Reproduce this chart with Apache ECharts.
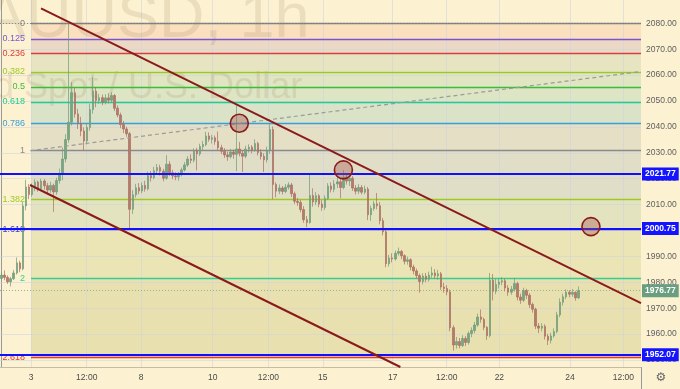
<!DOCTYPE html>
<html><head><meta charset="utf-8">
<script src="https://cdn.jsdelivr.net/npm/echarts@6/dist/echarts.min.js"></script>
<style>html,body{margin:0;padding:0;background:#fcf2d2}#c{width:680px;height:389px}</style>
</head><body><div id="c"></div>
<script>
// 2-hour candles: [open, close, low, high]
const candles = [
[1981.5,1982.8,1980.6,1984.0],[1982.8,1981.9,1980.8,1984.6],[1981.9,1980.2,1979.4,1982.7],[1980.2,1981.4,1978.4,1982.1],
[1981.4,1983.6,1980.9,1984.8],[1983.6,1987.5,1983.0,1989.6],[1987.5,1985.2,1983.9,1988.3],[1985.2,2009.5,1984.6,2011.0],
[2009.5,2016.8,2007.8,2019.6],[2016.8,2013.9,2012.1,2017.9],[2013.9,2016.4,2013.0,2018.2],[2016.4,2018.7,2015.1,2019.8],
[2018.7,2016.2,2015.0,2019.3],[2016.2,2019.1,2015.4,2020.0],[2019.1,2017.3,2015.8,2019.9],[2017.3,2015.6,2014.2,2018.4],
[2015.6,2017.4,2014.6,2018.8],[2017.4,2014.9,2007.2,2018.1],[2014.9,2019.3,2013.8,2020.4],[2019.3,2021.8,2018.1,2023.9],
[2021.8,2027.6,2019.4,2032.0],[2027.6,2035.1,2026.3,2037.2],[2035.1,2041.8,2033.9,2080.1],[2041.8,2053.2,2040.5,2057.3],
[2053.2,2045.0,2043.6,2055.1],[2045.0,2041.3,2039.2,2047.0],[2041.3,2038.4,2036.4,2043.9],[2038.4,2034.6,2031.0,2039.8],
[2034.6,2039.8,2033.2,2041.5],[2039.8,2046.7,2038.5,2048.9],[2046.7,2053.8,2045.1,2059.3],[2053.8,2050.2,2047.6,2055.4],
[2050.2,2051.3,2048.9,2052.8],[2051.3,2049.6,2048.4,2052.5],[2049.6,2051.2,2048.7,2052.6],[2051.2,2050.3,2049.1,2053.0],
[2050.3,2052.1,2049.5,2053.4],[2052.1,2047.2,2046.1,2052.7],[2047.2,2044.6,2043.7,2048.3],[2044.6,2040.9,2039.5,2045.5],
[2040.9,2039.2,2037.6,2042.3],[2039.2,2037.4,2036.2,2040.1],[2037.4,2008.2,2000.2,2038.0],[2008.2,2013.8,2006.4,2015.6],
[2013.8,2016.5,2012.7,2018.0],[2016.5,2015.3,2014.0,2018.3],[2015.3,2017.4,2014.4,2018.6],[2017.4,2016.1,2015.0,2019.2],
[2016.1,2021.2,2015.5,2022.8],[2021.2,2020.4,2018.9,2023.0],[2020.4,2023.1,2019.8,2024.6],[2023.1,2024.3,2021.9,2025.7],
[2024.3,2022.9,2021.2,2025.4],[2022.9,2020.2,2019.0,2023.8],[2020.2,2025.6,2019.6,2029.1],[2025.6,2022.3,2021.0,2026.8],
[2022.3,2021.1,2019.8,2023.4],[2021.1,2020.7,2019.4,2022.5],[2020.7,2021.6,2019.2,2022.6],[2021.6,2023.4,2020.9,2024.3],
[2023.4,2025.3,2022.8,2026.4],[2025.3,2027.6,2024.5,2028.7],[2027.6,2027.1,2025.9,2029.4],[2027.1,2030.8,2026.3,2031.7],
[2030.8,2029.6,2023.2,2031.9],[2029.6,2032.4,2028.8,2033.5],[2032.4,2033.2,2031.0,2034.6],[2033.2,2036.5,2032.6,2038.1],
[2036.5,2035.2,2034.3,2037.9],[2035.2,2035.8,2033.6,2036.9],[2035.8,2034.4,2033.1,2036.7],[2034.4,2032.0,2030.9,2038.2],
[2032.0,2030.6,2029.5,2033.1],[2030.6,2029.2,2028.0,2031.8],[2029.2,2028.5,2026.9,2030.4],[2028.5,2030.3,2027.8,2031.5],
[2030.3,2029.4,2027.7,2031.2],[2029.4,2031.5,2022.9,2048.4],[2031.5,2029.8,2028.6,2034.2],[2029.8,2028.7,2022.6,2031.0],
[2028.7,2031.4,2027.9,2032.7],[2031.4,2032.2,2030.1,2033.3],[2032.2,2031.0,2029.8,2033.0],[2031.0,2033.6,2030.4,2035.2],
[2033.6,2030.1,2029.0,2034.3],[2030.1,2028.6,2027.4,2031.3],[2028.6,2027.3,2022.6,2029.8],[2027.3,2030.9,2026.2,2032.4],
[2030.9,2039.0,2029.6,2041.5],[2039.0,2017.8,2012.1,2040.2],[2017.8,2015.2,2012.8,2018.6],[2015.2,2016.4,2014.1,2017.8],
[2016.4,2015.1,2013.9,2017.2],[2015.1,2016.7,2014.4,2018.0],[2016.7,2017.6,2015.8,2018.6],[2017.6,2014.2,2012.9,2018.4],
[2014.2,2011.3,2010.2,2015.0],[2011.3,2010.8,2009.5,2012.6],[2010.8,2008.1,2007.0,2011.9],[2008.1,2004.2,2003.0,2009.4],
[2004.2,2003.1,2001.3,2005.6],[2003.1,2013.5,2002.6,2022.1],[2013.5,2011.0,2009.2,2016.3],[2011.0,2013.4,2009.8,2014.8],
[2013.4,2010.2,2009.0,2014.1],[2010.2,2008.9,2007.6,2011.7],[2008.9,2012.4,2007.9,2013.6],[2012.4,2017.2,2011.8,2018.3],
[2017.2,2015.9,2014.7,2018.6],[2015.9,2018.0,2014.8,2019.5],[2018.0,2018.8,2016.4,2020.7],[2018.8,2016.6,2012.5,2020.1],
[2016.6,2020.5,2015.9,2023.3],[2020.5,2019.1,2017.7,2022.0],[2019.1,2020.2,2017.2,2021.4],[2020.2,2016.4,2015.3,2021.0],
[2016.4,2015.2,2013.9,2017.6],[2015.2,2016.6,2014.1,2017.9],[2016.6,2014.8,2013.9,2017.5],[2014.8,2016.0,2014.0,2017.3],
[2016.0,2006.1,2004.0,2016.8],[2006.1,2008.5,2003.7,2009.6],[2008.5,2010.3,2007.6,2011.4],[2010.3,2009.6,2008.2,2014.5],
[2009.6,2003.8,2002.4,2011.0],[2003.8,1999.5,1998.1,2004.9],[1999.5,1987.2,1985.8,2000.3],[1987.2,1989.4,1986.1,1990.6],
[1989.4,1989.0,1987.7,1991.2],[1989.0,1991.2,1988.4,1992.3],[1991.2,1991.9,1990.3,1993.4],[1991.9,1990.3,1988.9,1992.5],
[1990.3,1988.1,1986.9,1990.8],[1988.1,1988.7,1986.8,1989.9],[1988.7,1985.9,1984.6,1989.3],[1985.9,1984.4,1983.1,1986.8],
[1984.4,1982.6,1981.5,1985.3],[1982.6,1980.3,1976.0,1983.4],[1980.3,1982.4,1979.2,1983.5],[1982.4,1981.2,1980.0,1983.6],
[1981.2,1982.8,1980.3,1984.1],[1982.8,1983.6,1981.7,1986.0],[1983.6,1982.5,1981.3,1985.1],[1982.5,1983.3,1981.0,1984.8],
[1983.3,1978.2,1977.1,1984.0],[1978.2,1977.6,1976.0,1979.8],[1977.6,1976.3,1975.0,1978.9],[1976.3,1962.5,1961.1,1977.2],
[1962.5,1955.8,1953.6,1963.4],[1955.8,1957.1,1954.4,1958.9],[1957.1,1955.6,1954.5,1958.5],[1955.6,1958.3,1955.0,1959.6],
[1958.3,1956.8,1955.4,1959.2],[1956.8,1960.2,1955.9,1961.1],[1960.2,1961.4,1958.8,1962.6],[1961.4,1963.5,1960.3,1964.7],
[1963.5,1966.6,1962.8,1967.9],[1966.6,1965.7,1964.4,1969.5],[1965.7,1962.6,1961.5,1966.4],[1962.6,1959.4,1957.8,1963.1],
[1959.4,1980.8,1958.7,1983.6],[1980.8,1976.5,1973.0,1983.2],[1976.5,1979.2,1975.4,1981.4],[1979.2,1980.1,1977.6,1981.6],
[1980.1,1980.6,1978.9,1982.0],[1980.6,1977.8,1976.5,1981.5],[1977.8,1976.2,1974.8,1978.9],[1976.2,1977.3,1975.2,1978.6],
[1977.3,1979.5,1976.4,1981.7],[1979.5,1974.3,1973.0,1980.2],[1974.3,1973.1,1971.7,1975.6],[1973.1,1976.8,1972.4,1977.9],
[1976.8,1975.0,1973.6,1977.5],[1975.0,1971.4,1970.1,1975.8],[1971.4,1969.6,1968.3,1972.2],[1969.6,1963.1,1961.9,1970.2],
[1963.1,1962.3,1960.4,1964.3],[1962.3,1963.0,1961.0,1964.2],[1963.0,1959.2,1957.9,1963.8],[1959.2,1957.6,1955.8,1960.1],
[1957.6,1959.3,1956.4,1960.5],[1959.3,1961.0,1958.6,1962.2],[1961.0,1967.4,1960.3,1968.6],[1967.4,1972.3,1966.5,1973.8],
[1972.3,1974.4,1971.0,1975.6],[1974.4,1976.2,1973.5,1977.3],[1976.2,1975.4,1974.2,1977.0],[1975.4,1976.1,1974.4,1977.4],
[1976.1,1974.0,1972.9,1976.6],[1974.0,1976.77,1973.6,1978.4]
];
const tickPos = [9.66, 27.91, 45.70, 69.19, 87.41, 105.24, 128.17, 145.86, 163.10, 186.26, 203.73];
const tickText = ['3','12:00','8','10','12:00','15','17','12:00','22','24','12:00'];
const priceTicks = [1950,1960,1970,1980,1990,2000,2010,2020,2030,2040,2050,2060,2070,2080];
const fibHigh = 2080.1, fibLow = 2030.8;
const fibLevels = [0,0.125,0.236,0.382,0.5,0.618,0.786,1,1.382,1.618,2,2.618];
const fibLabels = ['0','0.125','0.236','0.382','0.5','0.618','0.786','1','1.382','1.618','2','2.618'];
const fibColors = ['#7d7d7d','#7a55d0','#d8403c','#9cc925','#3cbc3c','#22cc94','#3a9ed8','#8a8a8a','#9cc925','#3a3ae8','#30d090','#e03a3a'];
const bandColors = ['#fae0bf','#ebd9c6','#e7e4c2','#e0e5c2','#dde5c4','#dae2c7','#e4dfc5','#e1dec7','#e3e4bf','#ebe4b4','#e8e1af'];
const keyLevels = [2021.77, 2000.75, 1952.07];
const lastPrice = 1976.77;
const trendUpper = [[12.93,2085.79],[209.5,1971.93]];
const trendLower = [[9.33,2017.57],[130.66,1947.3]];
const dashedTrend = [[9.33,2030.8],[209.5,2061.4]];
const circles = [[77.9,2041.4],[112.0,2023.4],[193.1,2001.5]];

const X0 = -0.5, X1 = 209.5, FIBX = 9.66;
const fibPrice = l => fibHigh - l * (fibHigh - fibLow);

const chart = echarts.init(document.getElementById('c'), null, {renderer:'canvas'});
const bands = [];
for (let i = 0; i < fibLevels.length - 1; i++) {
  bands.push([{coord:[FIBX, fibPrice(fibLevels[i])], itemStyle:{color:bandColors[i]}}, {coord:[X1, fibPrice(fibLevels[i+1])]}]);
}
const fibLines = fibLevels.map((l, i) => [
  {coord:[FIBX, fibPrice(l)], lineStyle:{color:fibColors[i], width:1.4, type:'solid', opacity:1},
   label:{show:true, position:'start', distance:6, formatter:fibLabels[i], color:fibColors[i], fontSize:9, fontFamily:'Liberation Sans'}},
  {coord:[X1, fibPrice(l)]}
]);
const gridLines = priceTicks.map(p => ({yAxis:p})).concat(tickPos.map(t => ({xAxis:t})));

const option = {
  backgroundColor:'#fcf2d2',
  animation:false,
  grid:{left:0, top:0, right:39, bottom:22, containLabel:false},
  xAxis:{type:'value', min:X0, max:X1,
    axisLine:{show:true, lineStyle:{color:'#c4bca6', width:1}},
    axisTick:{show:false}, splitLine:{show:false},
    axisLabel:{customValues:tickPos, formatter:v => tickText[tickPos.indexOf(v)] || '', color:'#4a4a4a', fontSize:8.5, margin:6, fontFamily:'Liberation Sans'}},
  yAxis:{type:'value', position:'right', min:1947.3, max:2089.0, scale:true,
    axisLine:{show:true, lineStyle:{color:'#9a9a9a', width:1}},
    axisTick:{show:false}, splitLine:{show:false},
    axisLabel:{customValues:priceTicks, formatter:v => v.toFixed(2), color:'#5e5e5e', fontSize:8.5, margin:5, fontFamily:'Liberation Sans'}},
  graphic:[
    {type:'text', x:-58, y:20, z:1.5, silent:true, style:{text:'XAUUSD, 1h', font:'63px "Liberation Sans"', fill:'rgba(150,120,80,0.16)', verticalAlign:'middle', align:'left'}},
    {type:'text', x:-62, y:88, z:1.5, silent:true, style:{text:'Gold Spot / U.S. Dollar', font:'36px "Liberation Sans"', fill:'rgba(150,120,80,0.16)', verticalAlign:'middle', align:'left'}},
    {type:'line', z:1, silent:true, shape:{x1:641.5, y1:367, x2:641.5, y2:389}, style:{stroke:'#9a9a9a', lineWidth:1}},
    {type:'text', x:661, y:378, z:2, silent:true, style:{text:'\u2699', font:'12px "DejaVu Sans"', fill:'#666', align:'center', verticalAlign:'middle'}}
  ],
  series:[
    {name:'bands', type:'line', data:[], z:1, silent:true,
      markArea:{silent:true, z:1, data:bands}},
    {name:'grid', type:'line', data:[], silent:true,
      markLine:{silent:true, z:1.2, symbol:['none','none'], label:{show:false},
        lineStyle:{color:'rgba(205,210,222,0.55)', width:1, type:'solid'}, data:gridLines}},
    {name:'fib', type:'line', data:[], silent:true,
      markLine:{silent:true, z:3, symbol:['none','none'], data:fibLines}},
    {name:'topDots', type:'line', data:[], silent:true,
      markLine:{silent:true, z:3.1, symbol:['none','none'], label:{show:false},
        lineStyle:{color:'#8a8a8a', width:1, type:[1,2]}, data:[{yAxis:fibHigh}]}},
    {name:'last', type:'line', data:[], silent:true,
      markLine:{silent:true, z:4, symbol:['none','none'],
        lineStyle:{color:'#8fb394', width:1, type:[1,2]},
        label:{show:true, position:'end', distance:1, formatter:lastPrice.toFixed(2), color:'#fff', backgroundColor:'#6a9e80', padding:[2,3,2,3], fontSize:8.5, fontWeight:'bold', fontFamily:'Liberation Sans'},
        data:[{yAxis:lastPrice}]}},
    {name:'price', type:'candlestick', z:4.5, barWidth:2, clip:true,
      data:candles.map((d, i) => [i, d[0], d[1], d[2], d[3]]),
      encode:{x:0, y:[1,2,3,4]},
      itemStyle:{color:'#7aa584', color0:'#b47a6b', borderColor:'#6f9b78', borderColor0:'#a96e60', borderWidth:0.7}},
    {name:'levels', type:'line', data:[], silent:true,
      markLine:{silent:true, z:6, symbol:['none','none'],
        lineStyle:{color:'#1010ff', width:2, type:'solid'},
        label:{show:true, position:'end', distance:1, formatter:p => p.value.toFixed(2), color:'#fff', backgroundColor:'#1414ff', padding:[2,3,2,3], fontSize:8.5, fontWeight:'bold', fontFamily:'Liberation Sans'},
        data:keyLevels.map(v => ({yAxis:v}))}},
    {name:'dashed', type:'line', z:6.2, silent:true, symbol:'none', clip:true, data:dashedTrend,
      lineStyle:{color:'#9b9b9b', width:1.2, type:[4,3]}},
    {name:'upper', type:'line', z:6.5, silent:true, symbol:'none', clip:true, data:trendUpper,
      lineStyle:{color:'#8b1a1a', width:2}},
    {name:'lower', type:'line', z:6.5, silent:true, symbol:'none', clip:true, data:trendLower,
      lineStyle:{color:'#8b1a1a', width:2}},
    {name:'circles', type:'scatter', z:7, silent:true, symbolSize:18, data:circles,
      itemStyle:{color:'rgba(165,85,75,0.38)', borderColor:'#8b1a1a', borderWidth:1.6, opacity:1}}
  ]
};
chart.setOption(option);
</script></body></html>
